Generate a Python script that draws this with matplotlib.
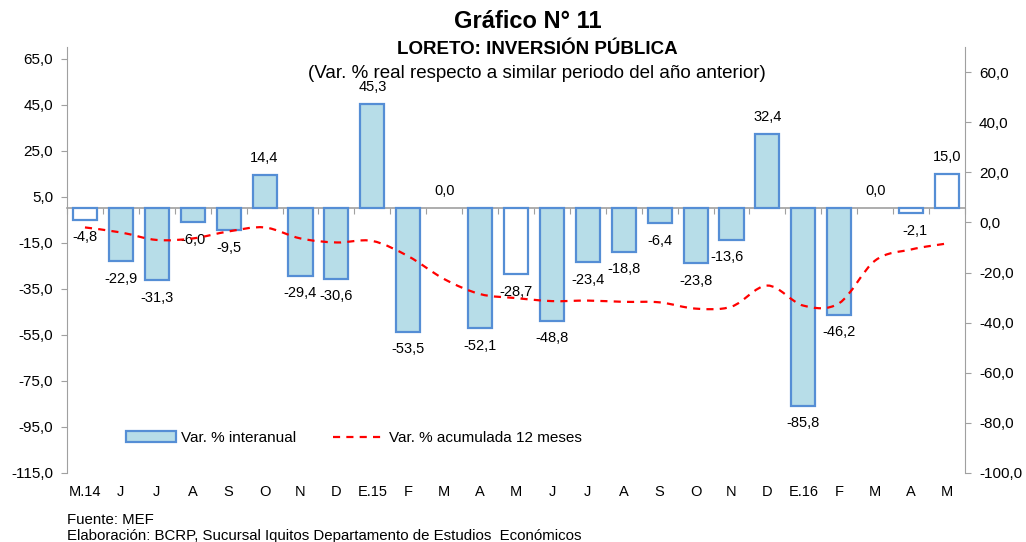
import matplotlib
matplotlib.use("Agg")
import matplotlib.pyplot as plt
from matplotlib.path import Path
from matplotlib.patches import PathPatch
from matplotlib.lines import Line2D
from matplotlib.patches import Patch
import numpy as np

plt.rcParams['font.family'] = ['Liberation Sans', 'DejaVu Sans']

categories = ["M.14", "J", "J", "A", "S", "O", "N", "D", "E.15", "F", "M", "A", "M",
              "J", "J", "A", "S", "O", "N", "D", "E.16", "F", "M", "A", "M"]
interanual = [-4.8, -22.9, -31.3, -6.0, -9.5, 14.4, -29.4, -30.6, 45.3, -53.5, 0.0, -52.1,
              -28.7, -48.8, -23.4, -18.8, -6.4, -23.8, -13.6, 32.4, -85.8, -46.2, 0.0, -2.1, 15.0]
white_bars = [0, 12, 23, 24]
acumulada = [-2.0, -4.0, -7.0, -6.4, -3.6, -2.0, -6.4, -8.0, -7.4, -13.5, -22.6, -28.6,
             -30.2, -31.4, -31.2, -31.7, -31.9, -34.4, -33.6, -25.2, -33.2, -32.2, -15.2, -10.8, -8.4]
left_ticks = [65, 45, 25, 5, -15, -35, -55, -75, -95, -115]
right_ticks = [60, 40, 20, 0, -20, -40, -60, -80, -100]

W, H = 1026, 542
fig = plt.figure(figsize=(W / 100, H / 100), dpi=100)
ax = fig.add_axes([67 / W, (H - 473) / H, (965 - 67) / W, (473 - 47) / H])
ax2 = ax.twinx()

BAR_FILL = '#B7DDE8'
BAR_EDGE = '#558ED5'
GRAY = '#A0A0A0'
x = np.arange(len(categories))
fills = ['white' if i in white_bars else BAR_FILL for i in range(len(categories))]
lws = [0 if v == 0 else 1.6 for v in interanual]
ax.bar(x, interanual, width=0.67, color=fills, edgecolor=BAR_EDGE, linewidth=lws, zorder=3)

ax.set_xlim(-0.5, len(categories) - 0.5)
ax.set_ylim(-115, 70.2)
ax2.set_ylim(-100, 70)
ax.set_yticks(left_ticks)
ax.set_yticklabels([f"{v:.1f}".replace('.', ',') for v in left_ticks], fontsize=11)
ax2.set_yticks(right_ticks)
ax2.set_yticklabels([f"{v:.1f}".replace('.', ',') for v in right_ticks], fontsize=11)

for a in (ax, ax2):
    for s in ('top', 'bottom'):
        a.spines[s].set_visible(False)
ax.spines['right'].set_visible(False)
ax2.spines['left'].set_visible(False)
ax.spines['left'].set_color(GRAY)
ax2.spines['right'].set_color(GRAY)
ax.tick_params(axis='y', colors=GRAY, labelcolor='black', length=4, pad=6)
ax2.tick_params(axis='y', colors=GRAY, labelcolor='black', length=4, pad=6)

ax.set_xticks(x)
ax.set_xticklabels(categories, fontsize=10.5)
ax.tick_params(axis='x', length=0, pad=9)

# category axis line at zero
frac0 = (0 - (-115)) / (70.2 - (-115))
sec = ax.secondary_xaxis(frac0)
sec.set_xticks(np.arange(len(categories) + 1) - 0.5)
sec.set_xticklabels([])
sec.tick_params(axis='x', direction='in', length=4, color=GRAY)
for sp in sec.spines.values():
    sp.set_color(GRAY)
    sp.set_linewidth(1.2)

# smoothed accumulated line (Catmull-Rom -> Bezier)
pts = np.column_stack([x, acumulada]).astype(float)
verts = [tuple(pts[0])]
codes = [Path.MOVETO]
n = len(pts)
for i in range(n - 1):
    p0 = pts[i - 1] if i > 0 else pts[i]
    p1 = pts[i]
    p2 = pts[i + 1]
    p3 = pts[i + 2] if i + 2 < n else pts[i + 1]
    c1 = p1 + (p2 - p0) / 6.0
    c2 = p2 - (p3 - p1) / 6.0
    verts += [tuple(c1), tuple(c2), tuple(p2)]
    codes += [Path.CURVE4] * 3
DASH = (0, (3.2, 2.8))
curve = PathPatch(Path(verts, codes), facecolor='none', edgecolor='#FF0000',
                  linewidth=1.6, linestyle=DASH, zorder=4)
ax2.add_patch(curve)

# data labels
xoff = {18: -3, 23: 3}
for i, v in enumerate(interanual):
    off = 12.5 if v >= 0 else -12.5
    ax.annotate(f"{v:.1f}".replace('.', ','), (i, v), xytext=(xoff.get(i, 0), off),
                textcoords='offset points', ha='center', va='center', fontsize=10.5, zorder=6)

# legend
handles = [Patch(facecolor=BAR_FILL, edgecolor=BAR_EDGE, linewidth=1.6),
           Line2D([0], [0], color='#FF0000', linewidth=1.6, linestyle=DASH)]
leg = ax.legend(handles, ['Var. % interanual', 'Var. % acumulada 12 meses'], ncol=2,
                frameon=False, loc='center left', bbox_to_anchor=(0.05, 0.082),
                fontsize=11, handlelength=3.3, handletextpad=0.35, columnspacing=2.4)

# titles
fig.text(528 / W, 1 - 22 / H, 'Gráfico N° 11', ha='center', va='center',
         fontsize=17, fontweight='bold')
fig.text(537 / W, 1 - 50 / H, 'LORETO: INVERSIÓN PÚBLICA', ha='center', va='center',
         fontsize=13.5, fontweight='bold')
fig.text(537 / W, 1 - 73 / H, '(Var. % real respecto a similar periodo del año anterior)',
         ha='center', va='center', fontsize=13.5)
fig.text(67 / W, 1 - 520 / H, 'Fuente: MEF', ha='left', va='center', fontsize=10.8)
fig.text(67 / W, 1 - 536 / H,
         'Elaboración: BCRP, Sucursal Iquitos Departamento de Estudios  Económicos',
         ha='left', va='center', fontsize=10.8)

fig.savefig('out.png', dpi=100)
